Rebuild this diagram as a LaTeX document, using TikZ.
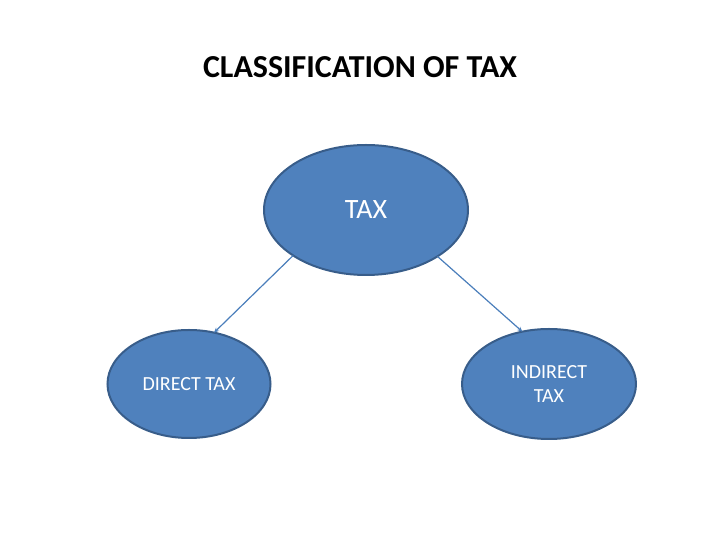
\documentclass[tikz,border=0pt]{standalone}
\usepackage{fontspec}
\setmainfont{Carlito}
\usetikzlibrary{shapes.geometric,arrows.meta}
\definecolor{boxfill}{HTML}{4F81BD}
\definecolor{boxline}{HTML}{385D8A}
\definecolor{arrowc}{HTML}{4A7EBB}
\begin{document}
\begin{tikzpicture}[x=1pt,y=1pt,
  bubble/.style={ellipse,draw=boxline,fill=boxfill,line width=2pt,inner sep=0pt,outer sep=0pt,text=white,font=\fontsize{20}{24}\selectfont,align=center},
  link/.style={draw=arrowc,line width=1.2pt,-{Stealth[length=5pt,width=4.5pt]}}]
\useasboundingbox (0,0) rectangle (720,540);
\node[font=\bfseries\fontsize{32}{36}\selectfont] (title) at (360,473) {CLASSIFICATION OF TAX};
\node[bubble,minimum width=204pt,minimum height=130pt,font=\fontsize{28}{32}\selectfont] (tax) at (366,330) {TAX};
\node[bubble,minimum width=163pt,minimum height=108pt] (direct) at (189,156) {DIRECT TAX};
\node[bubble,minimum width=174pt,minimum height=110pt] (indirect) at (549,156) {INDIRECT\\TAX};
\draw[link] (tax.212) -- (direct.64);
\draw[link] (tax.-33) -- (indirect.117);
\end{tikzpicture}
\end{document}
